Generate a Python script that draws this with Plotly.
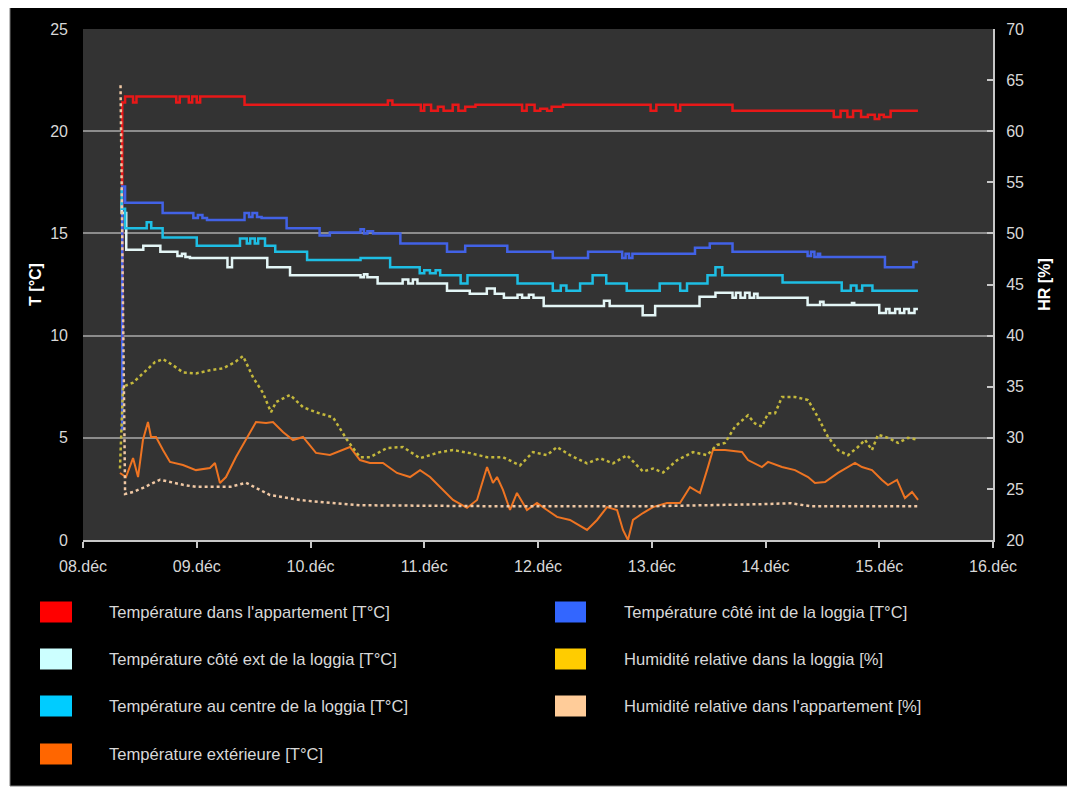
import plotly.graph_objects as go

# ---------------- data (x = days after 08.déc 00:00) ----------------
tick_vals = [0, 1, 2, 3, 4, 5, 6, 7, 8]
tick_text = ["08.déc", "09.déc", "10.déc", "11.déc", "12.déc", "13.déc", "14.déc", "15.déc", "16.déc"]

name_red = "Température dans l'appartement [T°C]"
name_blue = "Température côté int de la loggia [T°C]"
name_white = "Température côté ext de la loggia [T°C]"
name_cyan = "Température au centre de la loggia [T°C]"
name_orange = "Température extérieure [T°C]"
name_yellow = "Humidité relative dans la loggia [%]"
name_peach = "Humidité relative dans l'appartement [%]"

red_x = [0.33, 0.345, 0.37, 0.44, 0.47, 0.82, 0.85, 0.93, 0.96, 1.00, 1.03, 1.42, 2.68, 2.72,
         2.97, 3.00, 3.06, 3.12, 3.17, 3.25, 3.30, 3.36, 3.45, 3.86, 3.90, 3.97, 4.02, 4.08,
         4.12, 4.22, 4.99, 5.04, 5.21, 5.25, 5.71, 6.60, 6.66, 6.72, 6.77, 6.84, 6.90, 6.96,
         7.00, 7.04, 7.10, 7.34]
red_y = [9.8, 21.4, 21.7, 21.4, 21.7, 21.4, 21.7, 21.4, 21.7, 21.4, 21.7, 21.3, 21.5, 21.3,
         21.0, 21.3, 21.0, 21.2, 21.0, 21.3, 21.0, 21.2, 21.3, 21.0, 21.3, 21.0, 21.1, 21.0,
         21.2, 21.3, 21.0, 21.3, 21.0, 21.3, 21.0, 20.7, 21.0, 20.7, 21.0, 20.7, 20.8, 20.6,
         20.8, 20.7, 21.0, 21.0]

blue_x = [0.33, 0.345, 0.37, 0.70, 0.97, 1.01, 1.05, 1.09, 1.42, 1.46, 1.49, 1.53, 1.57, 1.79,
          2.08, 2.17, 2.44, 2.47, 2.50, 2.55, 2.79, 3.20, 3.36, 3.73, 4.13, 4.44, 4.74, 4.77,
          4.80, 4.83, 5.38, 5.51, 5.71, 6.37, 6.40, 6.43, 6.46, 6.48, 7.05, 7.30, 7.34]
blue_y = [5.4, 17.3, 16.5, 16.0, 15.75, 15.9, 15.75, 15.65, 16.0, 15.8, 16.0, 15.8, 15.75, 15.25,
          14.9, 15.05, 15.2, 15.0, 15.1, 15.0, 14.5, 14.1, 14.4, 14.1, 13.8, 14.1, 13.8, 14.0,
          13.8, 14.0, 14.3, 14.5, 14.1, 13.9, 14.1, 13.85, 14.0, 13.85, 13.35, 13.6, 13.6]

white_x = [0.33, 0.34, 0.38, 0.53, 0.68, 0.83, 0.87, 0.90, 0.94, 1.27, 1.31, 1.62, 1.82, 2.44,
           2.47, 2.50, 2.59, 2.81, 2.86, 2.90, 2.94, 3.20, 3.40, 3.55, 3.62, 3.70, 3.82, 3.86,
           3.92, 3.96, 4.05, 4.58, 4.63, 4.92, 5.03, 5.42, 5.56, 5.71, 5.74, 5.78, 5.82, 5.86,
           5.90, 5.93, 6.37, 6.48, 6.51, 6.76, 6.78, 7.00, 7.06, 7.09, 7.14, 7.18, 7.22, 7.26,
           7.31, 7.34]
white_y = [16.5, 16.0, 14.2, 14.4, 14.1, 13.9, 14.0, 13.85, 13.8, 13.35, 13.8, 13.35, 12.95, 12.85,
           13.0, 12.85, 12.55, 12.75, 12.55, 12.75, 12.55, 12.2, 12.05, 12.3, 12.05, 11.85, 12.0, 11.85,
           12.0, 11.85, 11.45, 11.7, 11.45, 11.0, 11.45, 11.9, 12.1, 11.85, 12.1, 11.85, 12.1, 11.85,
           12.05, 11.85, 11.5, 11.65, 11.5, 11.6, 11.5, 11.1, 11.3, 11.1, 11.3, 11.1, 11.3, 11.1,
           11.3, 11.3]

cyan_x = [0.33, 0.34, 0.37, 0.56, 0.60, 0.70, 1.00, 1.38, 1.44, 1.47, 1.51, 1.54, 1.60, 1.69,
          1.97, 2.44, 2.70, 2.96, 3.00, 3.05, 3.10, 3.14, 3.32, 3.38, 3.82, 4.13, 4.20, 4.25,
          4.37, 4.48, 4.60, 4.78, 5.07, 5.25, 5.31, 5.49, 5.56, 5.62, 6.15, 6.67, 6.75, 6.80,
          6.85, 6.94, 7.34]
cyan_y = [17.1, 16.2, 15.25, 15.55, 15.25, 14.8, 14.4, 14.75, 14.5, 14.75, 14.5, 14.75, 14.4, 14.1,
          13.7, 13.8, 13.35, 13.05, 13.2, 13.05, 13.2, 12.95, 12.55, 12.95, 12.55, 12.2, 12.45, 12.2,
          12.55, 12.95, 12.55, 12.2, 12.55, 12.2, 12.55, 12.95, 13.35, 12.95, 12.6, 12.2, 12.45, 12.2,
          12.45, 12.2, 12.2]

orange_x = [0.325, 0.378, 0.44, 0.484, 0.527, 0.571, 0.598, 0.642, 0.703, 0.765, 0.879, 0.993,
            1.116, 1.16, 1.204, 1.257, 1.345, 1.433, 1.521, 1.609, 1.67, 1.758, 1.846, 1.934,
            2.048, 2.171, 2.347, 2.435, 2.523, 2.637, 2.76, 2.875, 2.963, 3.051, 3.138, 3.253,
            3.376, 3.464, 3.552, 3.604, 3.64, 3.692, 3.754, 3.815, 3.903, 3.991, 4.079, 4.167,
            4.281, 4.431, 4.519, 4.607, 4.695, 4.747, 4.791, 4.835, 4.923, 5.011, 5.134, 5.248,
            5.336, 5.424, 5.486, 5.538, 5.644, 5.793, 5.846, 5.969, 6.022, 6.145, 6.259, 6.374,
            6.435, 6.523, 6.637, 6.787, 6.848, 6.936, 7.024, 7.077, 7.156, 7.226, 7.288, 7.341]
orange_y = [3.28, 3.08, 4.01, 3.08, 4.89, 5.77, 5.04, 5.04, 4.4, 3.82, 3.67, 3.42,
            3.52, 3.77, 2.79, 3.08, 4.06, 4.89, 5.77, 5.72, 5.77, 5.28, 4.89, 5.04,
            4.26, 4.16, 4.55, 3.91, 3.77, 3.77, 3.28, 3.08, 3.42, 3.08, 2.59, 1.96,
            1.57, 1.96, 3.57, 2.79, 3.08, 2.45, 1.47, 2.3, 1.47, 1.81, 1.47, 1.13,
            0.98, 0.49, 0.98, 1.61, 1.47, 0.49, 0.0, 0.98, 1.32, 1.61, 1.81, 1.81,
            2.59, 2.3, 3.42, 4.4, 4.4, 4.31, 3.91, 3.57, 3.82, 3.57, 3.42, 3.08,
            2.79, 2.84, 3.28, 3.77, 3.57, 3.42, 2.94, 2.69, 2.94, 2.05, 2.35, 1.96]

yellow_x = [0.325, 0.352, 0.44, 0.527, 0.633, 0.703, 0.791, 0.879, 0.993, 1.116, 1.231, 1.336,
            1.407, 1.495, 1.582, 1.653, 1.697, 1.82, 1.934, 2.048, 2.198, 2.321, 2.435, 2.523,
            2.673, 2.813, 2.963, 3.138, 3.253, 3.402, 3.552, 3.692, 3.842, 3.956, 4.079, 4.167,
            4.281, 4.431, 4.545, 4.659, 4.782, 4.923, 5.011, 5.099, 5.222, 5.363, 5.486, 5.574,
            5.644, 5.732, 5.846, 5.908, 5.969, 6.022, 6.084, 6.145, 6.259, 6.374, 6.462, 6.549,
            6.637, 6.725, 6.813, 6.875, 6.936, 6.989, 7.077, 7.165, 7.253, 7.341]
yellow_y = [27.0, 35.0, 35.4, 36.3, 37.4, 37.7, 37.1, 36.4, 36.3, 36.6, 36.8, 37.4,
            38.0, 35.9, 34.4, 32.5, 33.5, 34.2, 33.0, 32.5, 32.0, 29.8, 28.1, 28.1,
            29.0, 29.1, 28.0, 28.6, 28.8, 28.5, 28.1, 28.1, 27.3, 28.6, 28.3, 29.1,
            28.3, 27.5, 28.0, 27.5, 28.3, 26.7, 27.0, 26.6, 27.8, 28.6, 28.3, 29.3,
            29.5, 31.1, 32.2, 31.4, 31.1, 32.4, 32.4, 34.0, 34.0, 33.7, 32.0, 30.1,
            28.8, 28.3, 29.1, 29.8, 28.8, 30.3, 30.0, 29.5, 30.0, 29.8]

peach_x = [0.33, 0.37, 0.44, 0.527, 0.677, 0.879, 0.993, 1.292, 1.433, 1.644, 1.908, 2.198,
           2.435, 3.67, 4.98, 5.95, 6.22, 6.40, 7.34]
peach_y = [64.5, 24.5, 24.7, 25.1, 25.9, 25.4, 25.2, 25.2, 25.6, 24.4, 23.9, 23.6,
           23.4, 23.3, 23.3, 23.5, 23.6, 23.3, 23.3]

# ---------------- styling ----------------
# The page body keeps its default 8 px margin, so the figure is drawn 8 px
# in from the top-left corner of the window.
OFF = 8
W, H = 1075 - OFF, 789 - OFF
PL, PR, PT, PB = 83, 993, 29, 540  # plot area in window pixels


def fx(px):
    return (px - PL) / (PR - PL)


def fy(py):
    return (PB - py) / (PB - PT)


FONT = "Arial, Liberation Sans, sans-serif"
TICKC = "#d8d8d8"

fig = go.Figure()

temp_series = [
    (name_red, red_x, red_y, "#e81818"),
    (name_blue, blue_x, blue_y, "#4262e6"),
    (name_white, white_x, white_y, "#e4f6f6"),
    (name_cyan, cyan_x, cyan_y, "#1ebee4"),
]
for nm, xs, ys, col in temp_series:
    fig.add_trace(go.Scatter(x=xs, y=ys, name=nm, mode="lines", showlegend=False,
                             line=dict(color=col, width=2.5, shape="hv")))

fig.add_trace(go.Scatter(x=orange_x, y=orange_y, name=name_orange, mode="lines", showlegend=False,
                         line=dict(color="#ee7422", width=2)))
fig.add_trace(go.Scatter(x=yellow_x, y=yellow_y, name=name_yellow, mode="lines", showlegend=False,
                         yaxis="y2", line=dict(color="#c4b83c", width=2.5, dash="dot")))
fig.add_trace(go.Scatter(x=peach_x, y=peach_y, name=name_peach, mode="lines", showlegend=False,
                         yaxis="y2", line=dict(color="#f0c8a4", width=2.5, dash="dot")))

axis_common = dict(tickfont=dict(family=FONT, size=16, color=TICKC), zeroline=False)

fig.update_layout(
    width=W, height=H,
    margin=dict(l=PL - OFF, r=(1075 - PR), t=PT - OFF, b=(789 - PB), pad=0),
    paper_bgcolor="#000000",
    plot_bgcolor="#333333",
    showlegend=False,
    xaxis=dict(range=[0, 8], tickmode="array", tickvals=tick_vals, ticktext=tick_text,
               showgrid=False, showline=True, linecolor="#c8c8c8", linewidth=2,
               ticks="outside", ticklen=6, tickwidth=2, tickcolor="#c8c8c8",
               ticklabelstandoff=5, **axis_common),
    yaxis=dict(range=[0, 25], dtick=5, tick0=0, showgrid=True, gridcolor="#8c8c8c", gridwidth=2,
               showline=False, ticks="", ticklabelstandoff=14,
               title=dict(text="<b>T [°C]</b>", font=dict(family=FONT, size=16, color="#ffffff"),
                          standoff=4),
               **axis_common),
    yaxis2=dict(range=[20, 70], dtick=5, tick0=20, overlaying="y", side="right", showgrid=False,
                showline=True, linecolor="#c8c8c8", linewidth=2,
                ticks="inside", ticklen=6, tickwidth=2, tickcolor="#c8c8c8", ticklabelstandoff=8,
                title=dict(text="<b>HR [%]</b>", font=dict(family=FONT, size=16, color="#ffffff"),
                           standoff=16),
                **axis_common),
)

# ---------------- legend (swatches + real text) ----------------
legend_items = [
    (name_red, "#ff0000", 0, 0),
    (name_white, "#ccffff", 0, 1),
    (name_cyan, "#00ccff", 0, 2),
    (name_orange, "#ff6600", 0, 3),
    (name_blue, "#3366ff", 1, 0),
    (name_yellow, "#ffcc00", 1, 1),
    (name_peach, "#ffcc99", 1, 2),
]
col_sw = [(40, 72), (555, 586)]
col_tx = [107, 622]
row_c = [612, 659, 706, 754]
shapes = []
annotations = []
for nm, col, c, r in legend_items:
    x0, x1 = col_sw[c]
    yc = row_c[r]
    shapes.append(dict(type="rect", xref="paper", yref="paper",
                       x0=fx(x0), x1=fx(x1), y0=fy(yc + 10.5), y1=fy(yc - 10.5),
                       fillcolor=col, line=dict(width=0), layer="above"))
    annotations.append(dict(xref="paper", yref="paper", x=fx(col_tx[c]), y=fy(yc),
                            xanchor="left", yanchor="middle", showarrow=False, text=nm,
                            font=dict(family=FONT, size=16.6, color="#d8d8d8")))

# white frame around the black panel (window pixel coordinates)
frame = [(0, 0, 10, 789), (1068, 0, 1075, 789), (0, 786, 1075, 789)]
for ax0, ay0, ax1, ay1 in frame:
    shapes.append(dict(type="rect", xref="paper", yref="paper",
                       x0=fx(ax0), x1=fx(ax1), y0=fy(ay1), y1=fy(ay0),
                       fillcolor="#ffffff", line=dict(width=0), layer="above"))
shapes.append(dict(type="rect", xref="paper", yref="paper",
                   x0=fx(10), x1=fx(1068), y0=fy(786), y1=fy(7),
                   fillcolor="rgba(0,0,0,0)", line=dict(color="#7a7a7a", width=1), layer="above"))

fig.update_layout(shapes=shapes, annotations=annotations)

fig.write_html("out.html")
